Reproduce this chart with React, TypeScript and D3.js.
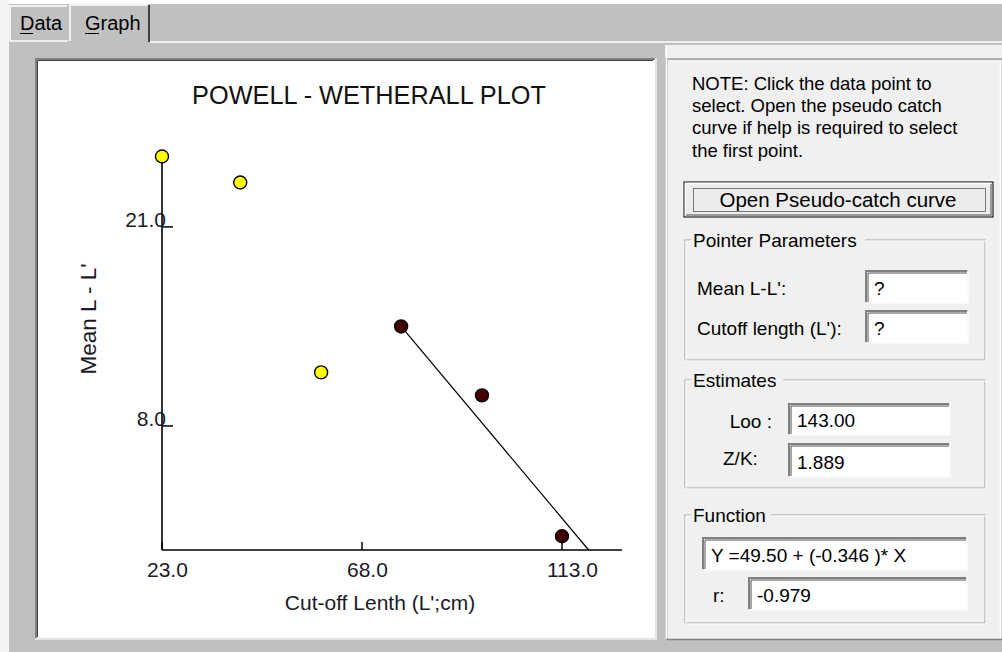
import React from 'react';
import * as d3 from 'd3';

// Powell-Wetherall plot: cut-off length L' vs mean L - L'
const cutoffLength = [23.0, 40.6, 58.8, 76.8, 95.0, 113.0];
const meanDiff = [25.6, 23.9, 11.5, 14.5, 10.0, 0.8];
const selected = [false, false, false, true, true, true];
const xTicks = [23.0, 68.0, 113.0];
const yTicks = [8.0, 21.0];
const fitSlope = -0.346;

const noteLines = [
  'NOTE: Click the data point to',
  'select. Open the pseudo catch',
  'curve if help is required to select',
  'the first point.',
];

const FONT = "Arial, 'Liberation Sans', sans-serif";

// sunken white edit box
const EditBox = ({ x, y, w, h, text }: { x: number; y: number; w: number; h: number; text: string }) => (
  <g>
    <rect x={x} y={y} width={w} height={h} fill="#fff" />
    <path d={`M${x + 1},${y + h} V${y + 1} H${x + w}`} fill="none" stroke="#808080" strokeWidth={2} />
    <path d={`M${x + 3},${y + h - 1} V${y + 3} H${x + w - 1}`} fill="none" stroke="#505050" strokeWidth={1} />
    <path d={`M${x},${y + h} H${x + w} V${y}`} fill="none" stroke="#fafafa" strokeWidth={1.5} />
    <text x={x + 9} y={y + h - 8} fontSize={19} fontFamily={FONT} fill="#000">{text}</text>
  </g>
);

// etched group frame with caption
const Group = ({ x, y, w, h, label, labelW }: { x: number; y: number; w: number; h: number; label: string; labelW: number }) => (
  <g>
    <rect x={x} y={y} width={w} height={h} fill="none" stroke="#a0a0a0" strokeWidth={1} />
    <rect x={x + 1} y={y + 1} width={w} height={h} fill="none" stroke="#ffffff" strokeWidth={1} />
    <rect x={x + 6} y={y - 10} width={labelW} height={20} fill="#f0f0f0" />
    <text x={x + 8} y={y + 7} fontSize={19} fontFamily={FONT} fill="#000">{label}</text>
  </g>
);

const App = () => {
  const x = d3.scaleLinear().domain([23, 126.5]).range([162, 622]);
  const y = d3.scaleLinear().domain([-0.1, 25.5]).range([550, 158]);
  const [xMin, xMax] = x.domain();
  const [yMin, yMax] = y.domain();

  const points = cutoffLength.map((c, i) => ({ c, m: meanDiff[i], sel: selected[i] }));
  const firstSel = points.find(p => p.sel)!;
  const fitEndX = firstSel.c + (yMin - firstSel.m) / fitSlope;
  const fitLine = d3.line<[number, number]>()
    .x(d => x(d[0]))
    .y(d => y(d[1]));
  const fitPath = fitLine([[firstSel.c, firstSel.m], [fitEndX, yMin]]) ?? '';

  return (
    <svg width={1002} height={652} style={{ position: 'absolute', left: 0, top: 0, display: 'block' }}>
      {/* window background */}
      <rect width={1002} height={652} fill="#c0c0c0" />
      <rect width={1002} height={4} fill="#ffffff" />
      <rect width={9} height={652} fill="#f4f4f4" />

      {/* tabs */}
      <path d="M10,41 V6 H67" fill="none" stroke="#ffffff" strokeWidth={1.5} />
      <line x1={10} x2={68} y1={41} y2={41} stroke="#ffffff" strokeWidth={1.5} />
      <path d="M70,41 V5 H148" fill="none" stroke="#ffffff" strokeWidth={1.5} />
      <line x1={149} x2={149} y1={5} y2={42} stroke="#404040" strokeWidth={2} />
      <line x1={150} x2={1002} y1={42} y2={42} stroke="#ffffff" strokeWidth={1.5} />
      <text x={20} y={30} fontSize={20} fontFamily={FONT}>Data</text>
      <line x1={20} x2={33} y1={33.5} y2={33.5} stroke="#000" strokeWidth={1} />
      <text x={85} y={30} fontSize={20} fontFamily={FONT}>Graph</text>
      <line x1={85} x2={99} y1={33.5} y2={33.5} stroke="#000" strokeWidth={1} />

      {/* plot panel */}
      <rect x={35} y={58} width={621} height={582} fill="#ffffff" />
      <path d="M36,639 V59 H655" fill="none" stroke="#808080" strokeWidth={2} />
      <path d="M37.5,637 V60.5 H653" fill="none" stroke="#404040" strokeWidth={1} />
      <path d="M35,639 H656 V58" fill="none" stroke="#e4e4e4" strokeWidth={2} />

      <text x={369} y={104} textAnchor="middle" fontSize={25.3} fontFamily={FONT} fill="#111">
        POWELL - WETHERALL PLOT
      </text>

      {/* axes */}
      <line x1={x(xMin)} x2={x(xMax)} y1={y(yMin)} y2={y(yMin)} stroke="#000" strokeWidth={1.6} />
      <line x1={x(xMin)} x2={x(xMin)} y1={y(yMin)} y2={y(yMax)} stroke="#000" strokeWidth={1.6} />
      {xTicks.map(t => (
        <g key={`xt${t}`}>
          <line x1={x(t)} x2={x(t)} y1={y(yMin)} y2={y(yMin) - 8} stroke="#000" strokeWidth={1.5} />
          <text x={x(t) - 15} y={577} fontSize={21} fontFamily={FONT} fill="#1a1a2a">{t.toFixed(1)}</text>
        </g>
      ))}
      {yTicks.map(t => (
        <g key={`yt${t}`}>
          <line x1={x(xMin)} x2={x(xMin) + 11} y1={y(t)} y2={y(t)} stroke="#000" strokeWidth={1.5} />
          <text x={x(xMin) + 4} y={y(t)} textAnchor="end" fontSize={21} fontFamily={FONT} fill="#1a1a2a">{t.toFixed(1)}</text>
        </g>
      ))}
      <text x={380} y={610} textAnchor="middle" fontSize={21} fontFamily={FONT} fill="#1a1a2a">Cut-off Lenth (L';cm)</text>
      <text transform="translate(96,319) rotate(-90)" textAnchor="middle" fontSize={22.5} fontFamily={FONT} fill="#1a1a2a">Mean L - L'</text>

      {/* regression line */}
      <path d={fitPath} fill="none" stroke="#000" strokeWidth={1.2} />

      {/* data points */}
      {points.map((p, i) => (
        <circle key={i} cx={x(p.c)} cy={y(p.m)} r={6.5}
          fill={p.sel ? '#440000' : '#ffff00'} stroke="#000" strokeWidth={1.4} />
      ))}

      {/* right panel */}
      <rect x={665} y={45} width={337} height={14} fill="#f0f0f0" />
      <line x1={665} x2={1002} y1={59} y2={59} stroke="#a0a0a0" strokeWidth={1.5} />
      <rect x={668} y={60} width={332} height={579} fill="#f0f0f0" />
      <line x1={666.5} x2={666.5} y1={45} y2={640} stroke="#ffffff" strokeWidth={1.5} />
      <line x1={1000.5} x2={1000.5} y1={60} y2={640} stroke="#ffffff" strokeWidth={1.5} />
      <line x1={666} x2={1002} y1={639.5} y2={639.5} stroke="#808080" strokeWidth={1.5} />

      {noteLines.map((l, i) => (
        <text key={i} x={692} y={90 + i * 22.2} fontSize={18.5} fontFamily={FONT} fill="#000">{l}</text>
      ))}

      {/* button */}
      <rect x={684} y={182} width={309} height={35} fill="#ececec" stroke="#000" strokeWidth={1} />
      <path d="M685.5,215.5 V183.5 H991" fill="none" stroke="#ffffff" strokeWidth={1.5} />
      <path d="M686,215 H991 V184" fill="none" stroke="#808080" strokeWidth={1.5} />
      <rect x={693.5} y={188.5} width={292} height={23} fill="none" stroke="#000" strokeWidth={1} strokeDasharray="1,1" />
      <text x={838} y={207} textAnchor="middle" fontSize={20.5} fontFamily={FONT} fill="#000">Open Pseudo-catch curve</text>

      {/* pointer parameters */}
      <Group x={685} y={240} w={300} h={120} label="Pointer Parameters" labelW={174} />
      <text x={697} y={295} fontSize={19} fontFamily={FONT}>Mean L-L':</text>
      <EditBox x={865} y={270} w={103} h={33} text="?" />
      <text x={697} y={335} fontSize={19} fontFamily={FONT}>Cutoff length (L'):</text>
      <EditBox x={865} y={310} w={103} h={33} text="?" />

      {/* estimates */}
      <Group x={685} y={380} w={300} h={108} label="Estimates" labelW={92} />
      <text x={772} y={428} textAnchor="end" fontSize={19} fontFamily={FONT}>Loo :</text>
      <EditBox x={788} y={403} w={162} h={32} text="143.00" />
      <text x={723} y={465} fontSize={19} fontFamily={FONT}>Z/K:</text>
      <EditBox x={788} y={443} w={162} h={34} text="1.889" />

      {/* function */}
      <Group x={685} y={515} w={300} h={108} label="Function" labelW={80} />
      <EditBox x={702} y={537} w={265} h={33} text="Y =49.50 + (-0.346 )* X" />
      <text x={713} y={602} fontSize={19} fontFamily={FONT}>r:</text>
      <EditBox x={748} y={577} w={219} h={33} text="-0.979" />
    </svg>
  );
};

export default App;
